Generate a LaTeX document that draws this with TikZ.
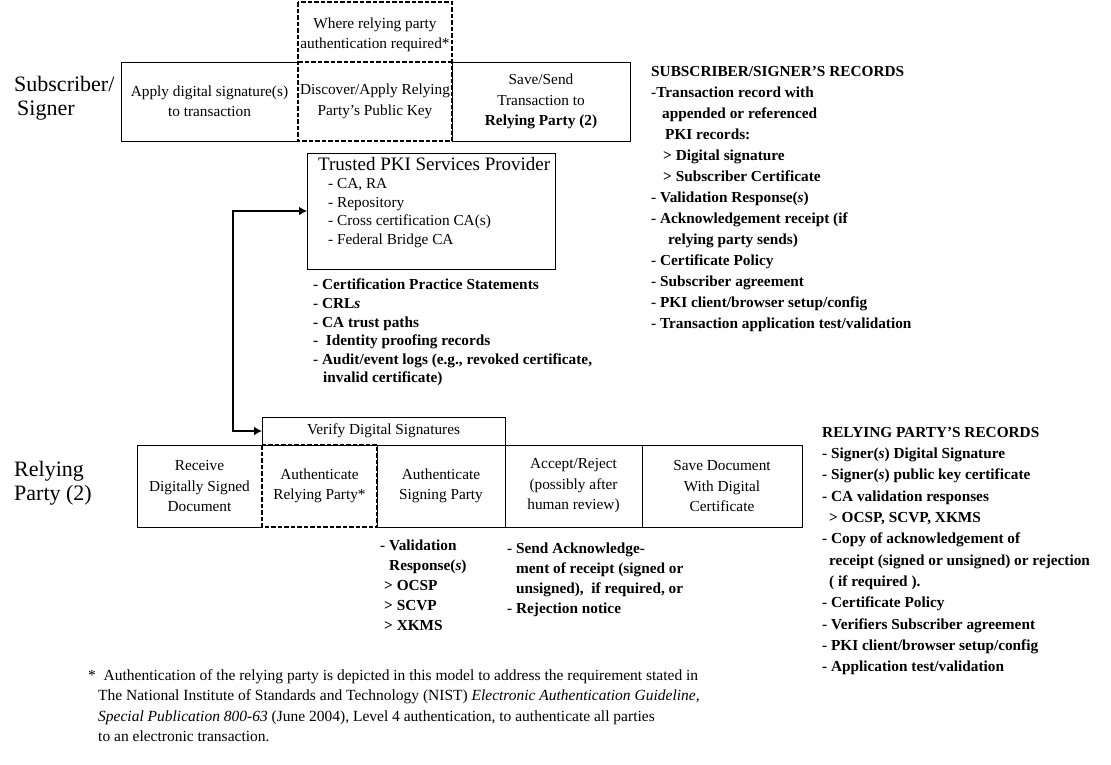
\documentclass[tikz,border=0pt]{standalone}
\usepackage{fontspec}
\setmainfont{Liberation Serif}
\usetikzlibrary{arrows.meta}
\usetikzlibrary{positioning}
\tikzset{
    cell/.style={
           rectangle,
           inner sep=0pt, outer sep=0pt,
           minimum height=79pt,
           align=center,
           font=\fontsize{15.3}{20.5}\selectfont,
           },
}
\tikzset{
    solidbox/.style={
           draw=black, line width=1pt,
           },
}
\tikzset{
    dashbox/.style={
           draw=black, line width=1.8pt,
           dash pattern=on 4.5pt off 2pt,
           },
}
\tikzset{
    records/.style={
           anchor=north west,
           inner sep=0pt,
           align=left,
           font=\fontsize{15.3}{21}\selectfont\bfseries,
           },
}
\tikzset{
    rolelabel/.style={
           anchor=north west,
           inner sep=0pt,
           align=left,
           font=\fontsize{22}{24}\selectfont,
           },
}
\tikzset{
    link/.style={
           line width=2.8pt,
           {Latex[length=8pt,width=9pt]}-{Latex[length=8pt,width=9pt]},
           },
}

\begin{document}
\begin{tikzpicture}[x=1pt,y=-1pt]
\useasboundingbox (0,0) rectangle (1111,764);

% subscriber / signer
\node[rolelabel](signer) at (14,76){Subscriber/\\\hspace*{3pt}Signer};
\node[cell,minimum width=177pt,anchor=north west](apply) at (121,62){Apply digital signature(s)\\to transaction};
\node[cell,minimum width=154pt,right=0pt of apply](discover){Discover/Apply Relying\\Party's Public Key};
\node[cell,solidbox,minimum width=178pt,right=0pt of discover](send){Save/Send\\Transaction to\\\textbf{Relying Party (2)}};
\node[cell,minimum width=154pt,minimum height=60pt,above=0pt of discover,yshift=-3pt](where){Where relying party\\authentication required*};
\draw[solidbox] (apply.north east) -- (apply.north west) -- (apply.south west) -- (apply.south east);
\draw[dashbox] (discover.north west) ++(0,-60) rectangle (discover.south east);
\draw[dashbox] (discover.north west) -- (discover.north east);

% subscriber records
\node[records](subrec) at (651,66){SUBSCRIBER/SIGNER'S RECORDS\\
-Transaction record with\\
\hspace*{11pt}appended or referenced\\
\hspace*{14pt}PKI records:\\
\hspace*{12pt}> Digital signature\\
\hspace*{12pt}> Subscriber Certificate\\
- Validation Response(\textit{s})\\
- Acknowledgement receipt (if\\
\hspace*{17pt}relying party sends)\\
- Certificate Policy\\
- Subscriber agreement\\
- PKI client/browser setup/config\\
- Transaction application test/validation};

% pki provider
\node[solidbox,inner sep=0pt,outer sep=0pt,minimum width=248pt,minimum height=116pt,anchor=north west](pki) at (307,153){};
\node[anchor=north west,inner sep=0pt,align=left,font=\fontsize{15.3}{18.5}\selectfont](pkilist) at (318,157){{\fontsize{19}{18.5}\selectfont Trusted PKI Services Provider}\\
\hspace*{10pt}- CA, RA\\
\hspace*{10pt}- Repository\\
\hspace*{10pt}- Cross certification CA(s)\\
\hspace*{10pt}- Federal Bridge CA};
\node[records,font=\fontsize{15.3}{18.6}\selectfont\bfseries](pkirec) at (313,279){- Certification Practice Statements\\
- CRL\textit{s}\\
- CA trust paths\\
-\ \ Identity proofing records\\
- Audit/event logs (e.g., revoked certificate,\\
\hspace*{10pt}invalid certificate)};

% relying party
\node[rolelabel](relying) at (14,461){Relying\\Party (2)};
\node[cell,minimum width=125pt,minimum height=82pt,anchor=north west](receive) at (137,445){Receive\\Digitally Signed\\Document};
\node[cell,minimum width=115pt,minimum height=82pt,right=0pt of receive](authrp){Authenticate\\Relying Party*};
\node[cell,solidbox,minimum width=128pt,minimum height=82pt,right=0pt of authrp](authsp){Authenticate\\Signing Party};
\node[cell,solidbox,minimum width=137pt,minimum height=82pt,right=0pt of authsp](accept){Accept/Reject\\(possibly after\\human review)};
\node[cell,solidbox,minimum width=160pt,minimum height=82pt,right=0pt of accept](savedoc){Save Document\\With Digital\\Certificate};
\node[cell,solidbox,minimum width=243pt,minimum height=28pt,anchor=south west](verify) at (authrp.north west){Verify Digital Signatures};
\draw[solidbox] (receive.north east) -- (receive.north west) -- (receive.south west) -- (receive.south east);
\draw[dashbox] (authrp.north west) rectangle (authrp.south east);

% verify <-> pki
\draw[link] (verify.west) -- ++(-29,0) |- (pki.west);

\node[records,font=\fontsize{15.3}{20}\selectfont\bfseries](valid) at (380,540){- Validation\\
\hspace*{9pt}Response(\textit{s})\\
\hspace*{4pt}> OCSP\\
\hspace*{4pt}> SCVP\\
\hspace*{4pt}> XKMS};
\node[records,font=\fontsize{15.3}{20}\selectfont\bfseries](ack) at (507,543){- Send Acknowledge-\\
\hspace*{9pt}ment of receipt (signed or\\
\hspace*{9pt}unsigned),\ \ if required, or\\
- Rejection notice};

% relying party records
\node[records,font=\fontsize{15.3}{21.3}\selectfont\bfseries](relrec) at (822,427){RELYING PARTY'S RECORDS\\
- Signer(\textit{s}) Digital Signature\\
- Signer(\textit{s}) public key certificate\\
- CA validation responses\\
\hspace*{7pt}> OCSP, SCVP, XKMS\\
- Copy of acknowledgement of\\
\hspace*{7pt}receipt (signed or unsigned) or rejection\\
\hspace*{7pt}( if required ).\\
- Certificate Policy\\
- Verifiers Subscriber agreement\\
- PKI client/browser setup/config\\
- Application test/validation};

% footnote
\node[anchor=north west,inner sep=0pt,align=left,font=\fontsize{15.5}{20.5}\selectfont](note) at (88,669){*\ \ Authentication of the relying party is depicted in this model to address the requirement stated in\\
\hspace*{10pt}The National Institute of Standards and Technology (NIST) \textit{Electronic Authentication Guideline,}\\
\hspace*{10pt}\textit{Special Publication 800-63} (June 2004), Level 4 authentication, to authenticate all parties\\
\hspace*{10pt}to an electronic transaction.};
\end{tikzpicture}
\end{document}
